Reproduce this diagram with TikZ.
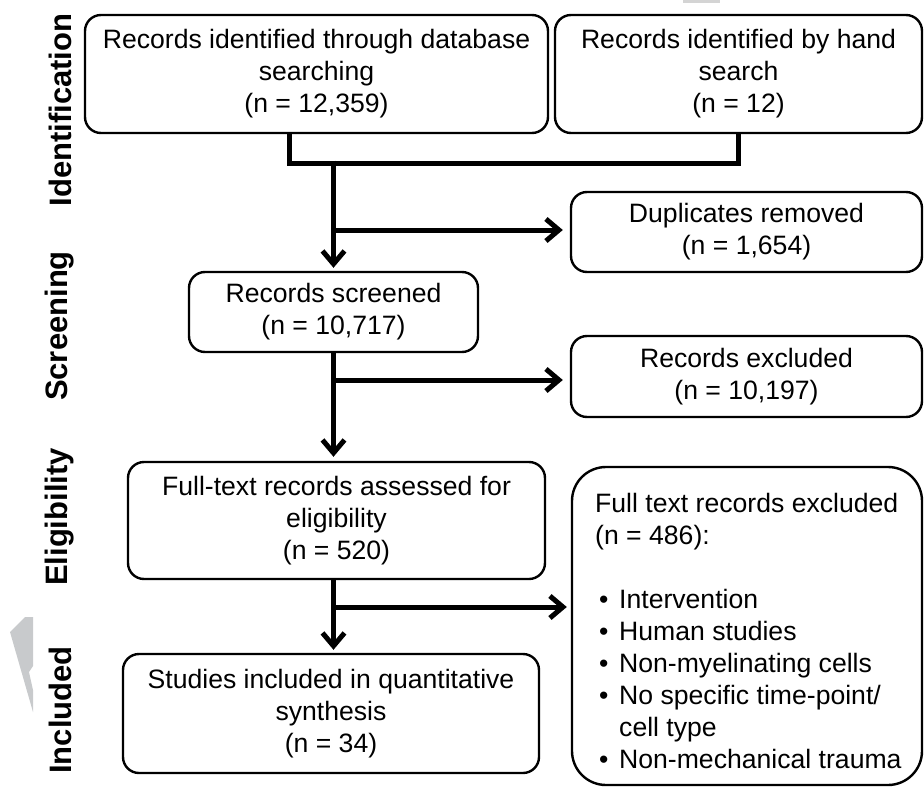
\documentclass[tikz,border=0pt]{standalone}
\usepackage{fontspec}
\setmainfont{Liberation Sans}
\usetikzlibrary{arrows.meta}
\definecolor{ghost}{HTML}{C8CACC}
\definecolor{ghostb}{HTML}{D4D4D4}
\newcommand{\bul}{\makebox[24pt][l]{\hspace{4pt}•}}
\begin{document}
\begin{tikzpicture}[x=1pt,y=-1pt,
  box/.style={draw, line width=2.4pt, rounded corners=16pt, align=center, inner sep=0pt,
    font=\fontsize{26.6pt}{32pt}\selectfont},
  lab/.style={rotate=90, inner sep=0pt, font=\fontsize{31pt}{36pt}\selectfont\bfseries},
  conn/.style={line width=5pt, line join=miter},
  arr/.style={conn, -{Straight Barb[length=13pt,width=22pt]}}
]
\useasboundingbox (0,0) rectangle (924,787);

% faint artefacts
\fill[ghost] (10,632) -- (25,617) -- (33,617) -- (33,666) -- (29,672) -- (33,690) -- (33,712) -- cycle;
\fill[ghostb] (683,0) rectangle (720,2.5);

% phase labels
\node[lab] (lid) at (60,110) {Identification};
\node[lab] (lsc) at (60,326) {Screening};
\node[lab] (lel) at (60,517) {Eligibility};
\node[lab] (lin) at (60,710) {Included};

% boxes
\node[box, minimum width=463pt, minimum height=118pt] (b1) at (316.5,74)
  {Records identified through database\\searching\\(n = 12,359)};
\node[box, minimum width=367pt, minimum height=118pt] (b2) at (738.5,74)
  {Records identified by hand\\search\\(n = 12)};
\node[box, minimum width=351pt, minimum height=80pt] (dup) at (746.5,232)
  {Duplicates removed\\(n = 1,654)};
\node[box, minimum width=289pt, minimum height=80pt] (scr) at (333.5,312)
  {Records screened\\(n = 10,717)};
\node[box, minimum width=351pt, minimum height=81pt] (rex) at (746.5,376.5)
  {Records excluded\\(n = 10,197)};
\node[box, minimum width=417pt, minimum height=117pt] (ft) at (336.5,520.5)
  {Full-text records assessed for\\eligibility\\(n = 520)};
\node[box, minimum width=416pt, minimum height=119pt] (st) at (331,713.5)
  {Studies included in quantitative\\synthesis\\(n = 34)};
\node[box, rounded corners=34pt, minimum width=350pt, minimum height=318pt] (ftx) at (747,626) {};
\node[anchor=base west, align=left, inner sep=0pt, font=\fontsize{26.6pt}{32pt}\selectfont] (ftxt) at (595,768)
  {Full text records excluded\\(n = 486):\\ \strut\\
   \bul Intervention\\
   \bul Human studies\\
   \bul Non-myelinating cells\\
   \bul No specific time-point/\\
   \hspace*{24pt}cell type\\
   \bul Non-mechanical trauma};

% connectors
\coordinate (j1) at (289,163);
\coordinate (j2) at (738.5,163);
\coordinate (m0) at (333.5,163);
\coordinate (br1) at (333.5,230);
\coordinate (br2) at (333.5,380);
\coordinate (br3) at (333.5,607);

\draw[conn] (j1 |- b1.south) -- (j1) -- (j2) -- (b2.south);
\draw[arr, shorten >=3pt] ([yshift=2.5pt]m0) -- (scr.north);
\draw[arr, shorten >=7pt] (br1) -- (dup.west |- br1);

\draw[arr, shorten >=4pt] (scr.south) -- (scr.south |- ft.north);
\draw[arr, shorten >=7pt] (br2) -- (rex.west |- br2);

\draw[arr, shorten >=3pt] (ft.south -| scr.south) -- (st.north -| scr.south);
\draw[arr, shorten >=4pt] (br3) -- (ftx.west |- br3);
\end{tikzpicture}
\end{document}
